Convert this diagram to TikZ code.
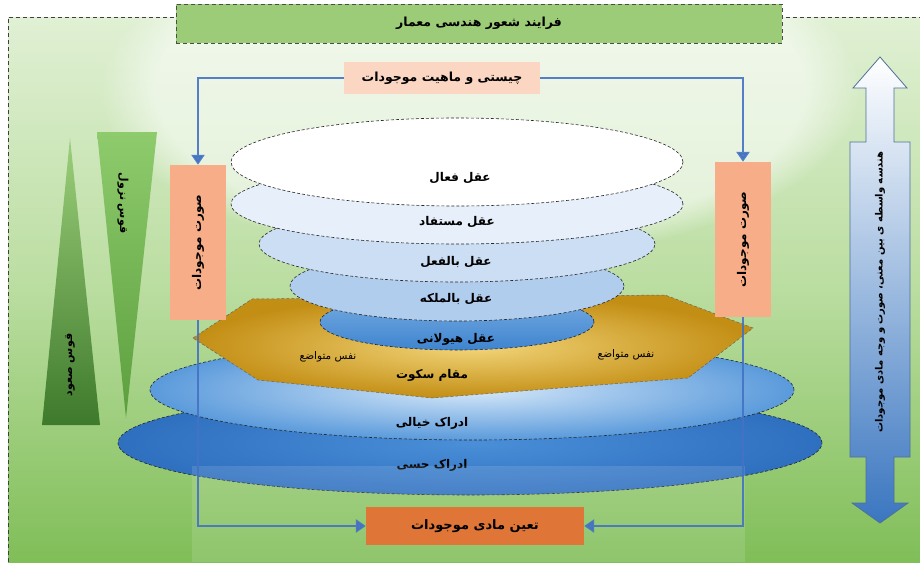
\documentclass[tikz,border=0pt]{standalone}
\usepackage{fontspec}
\newfontfamily\fa[Script=Arabic]{DejaVu Sans}
\TeXXeTstate=1
\usetikzlibrary{arrows.meta,fadings}
\newcommand{\artext}[1]{\beginR #1\endR}
\definecolor{blueline}{HTML}{4472C4}
\definecolor{bgtop}{HTML}{E0F0D4}
\definecolor{bgmid}{HTML}{BADDA0}
\definecolor{bgbot}{HTML}{80BE58}
\definecolor{titlegreen}{HTML}{9CCC78}
\definecolor{peach}{HTML}{FBD6C2}
\definecolor{salmon}{HTML}{F7AE88}
\definecolor{orangebox}{HTML}{DF7536}
\definecolor{goldout}{HTML}{C38E14}
\definecolor{goldin}{HTML}{F2D57A}
\definecolor{triAtop}{HTML}{9CCF7A}
\definecolor{triAbot}{HTML}{3E7A2C}
\definecolor{triBtop}{HTML}{8ECB6C}
\definecolor{triBbot}{HTML}{5C9E3E}
\definecolor{esevin}{HTML}{4A8FD8}
\definecolor{esevout}{HTML}{2F6FBF}
\definecolor{esixin}{HTML}{D6E8F9}
\definecolor{esixout}{HTML}{5A9ADB}
\definecolor{efivetop}{HTML}{79AEE3}
\definecolor{efivebot}{HTML}{3F84CF}
\definecolor{efour}{HTML}{B0CDEE}
\definecolor{ethree}{HTML}{CCDEF4}
\definecolor{etwo}{HTML}{E6EFFA}
\definecolor{arrbot}{HTML}{3A76C0}
\definecolor{arrdraw}{HTML}{4F6F9A}
\begin{document}
\begin{tikzpicture}[x=1pt,y=-1pt,
  lbl/.style={font=\fa\bfseries\fontsize{12}{14}\selectfont, text=black, inner sep=1pt},
  slbl/.style={font=\fa\fontsize{10.5}{12}\selectfont, text=black, inner sep=1pt},
  ell/.style={draw=black!85, line width=0.6pt, dash pattern=on 3pt off 2pt},
  conn/.style={draw=blueline, line width=2.6pt, opacity=0.9},
  tip/.style={-{Triangle[width=13pt,length=10pt]}},
  rbox/.style={rectangle, fill=salmon, minimum width=56pt, minimum height=155pt, inner sep=0pt}
]
\useasboundingbox (0,0) rectangle (920,562);
\fill[white] (0,0) rectangle (920,562);
% background
\shade[top color=bgtop, bottom color=bgbot, middle color=bgmid] (8,17) rectangle (920,562);
\begin{scope}
\clip (8,17) rectangle (920,562);
\fill[white, opacity=0.55, path fading=circle with fuzzy edge 15 percent] (480,90) ellipse [x radius=380pt, y radius=170pt];
\end{scope}
\draw[black!75, line width=1pt, dash pattern=on 4pt off 3pt] (8,562) -- (8,17) -- (920,17);

% title
\node (title) [rectangle, fill=titlegreen, draw=black!70, line width=0.9pt, dash pattern=on 4pt off 3pt,
  minimum width=606pt, minimum height=39pt, inner sep=0pt] at (479,23.5)
  {\fa\bfseries\fontsize{12.5}{14}\selectfont\artext{فرایند شعور هندسی معمار}};

% left triangles
\shade[top color=triAtop, bottom color=triAbot] (70,138) -- (100,425) -- (42,425) -- cycle;
\shade[top color=triBtop, bottom color=triBbot] (97,132) -- (157,132) -- (126,418) -- cycle;
\node (asc) [lbl, font=\fa\bfseries\fontsize{11}{13}\selectfont, rotate=90] at (70,365) {\artext{قوس صعود}};
\node (desc) [lbl, font=\fa\bfseries\fontsize{11}{13}\selectfont, rotate=-90] at (123,203) {\artext{قوس نزول}};

% lower ellipses
\path[ell, shade, inner color=esevin, outer color=esevout] (470,443) ellipse [x radius=352pt, y radius=52pt];
\path[ell, shade, inner color=esixin, outer color=esixout] (472,390) ellipse [x radius=322pt, y radius=50pt];
% golden hexagon
\path[draw=black!60, line width=0.5pt, dash pattern=on 3pt off 2pt, shade, inner color=goldin, outer color=goldout]
  (193,338) -- (252,299) -- (665,295) -- (753,328) -- (688,378) -- (432,398) -- (258,380) -- cycle;
% upper ellipses
\path[ell, shade, top color=efivetop, bottom color=efivebot] (457,322) ellipse [x radius=137pt, y radius=28pt];
\path[ell, fill=efour] (457,286) ellipse [x radius=167pt, y radius=35pt];
\path[ell, fill=ethree] (457,244) ellipse [x radius=198pt, y radius=38pt];
\path[ell, fill=etwo] (457,204) ellipse [x radius=226pt, y radius=40pt];
\path[ell, fill=white] (457,162) ellipse [x radius=226pt, y radius=44pt];

\node (e1) [lbl] at (460,178) {\artext{عقل فعال}};
\node (e2) [lbl] at (457,222) {\artext{عقل مستفاد}};
\node (e3) [lbl] at (456,262) {\artext{عقل بالفعل}};
\node (e4) [lbl] at (456,299) {\artext{عقل بالملکه}};
\node (e5) [lbl] at (456,339) {\artext{عقل هیولانی}};
\node (n1) [slbl] at (328,357) {\artext{نفس متواضع}};
\node (n2) [slbl] at (626,355) {\artext{نفس متواضع}};
\node (mq) [lbl] at (432,375) {\artext{مقام سکوت}};
\node (e6) [lbl] at (432,423) {\artext{ادراک خیالی}};
\node (e7) [lbl] at (432,465) {\artext{ادراک حسی}};

% faint overlay
\fill[white, opacity=0.12] (192,466) rectangle (745,562);

% right double arrow
\shade[top color=white, bottom color=arrbot, draw=arrdraw, line width=0.8pt]
  (880,57) -- (907,88) -- (894,88) -- (894,142) -- (910,142) -- (910,457) -- (894,457) -- (894,503)
  -- (908,503) -- (880,523) -- (852,503) -- (866,503) -- (866,457) -- (850,457) -- (850,142)
  -- (866,142) -- (866,88) -- (853,88) -- cycle;
\node (rtext) [font=\fa\bfseries\fontsize{10}{12}\selectfont, rotate=90] at (880,292)
  {\artext{هندسه واسطه ی بین معنی، صورت و وجه مادی موجودات}};

% boxes
\node (top) [rectangle, fill=peach, minimum width=196pt, minimum height=32pt, inner sep=0pt] at (442,78)
  {\fa\bfseries\fontsize{12.5}{14}\selectfont\artext{چیستی و ماهیت موجودات}};
\node (lbox) [rbox] at (198,242.5) {};
\node (lboxt) [lbl, rotate=90] at (lbox.center) {\artext{صورت موجودات}};
\node (rbx) [rbox] at (743,239.5) {};
\node (rboxt) [lbl, rotate=90] at (rbx.center) {\artext{صورت موجودات}};
\node (bot) [rectangle, fill=orangebox, minimum width=218pt, minimum height=38pt, inner sep=0pt] at (475,526)
  {\fa\bfseries\fontsize{13}{15}\selectfont\artext{تعین مادی موجودات}};

% connectors
\draw[conn, tip] (top.west) -| (lbox.north);
\draw[conn, tip] (top.east) -| (rbx.north);
\draw[conn, tip] (lbox.south) |- (bot.west);
\draw[conn, tip] (rbx.south) |- (bot.east);
\end{tikzpicture}
\end{document}
